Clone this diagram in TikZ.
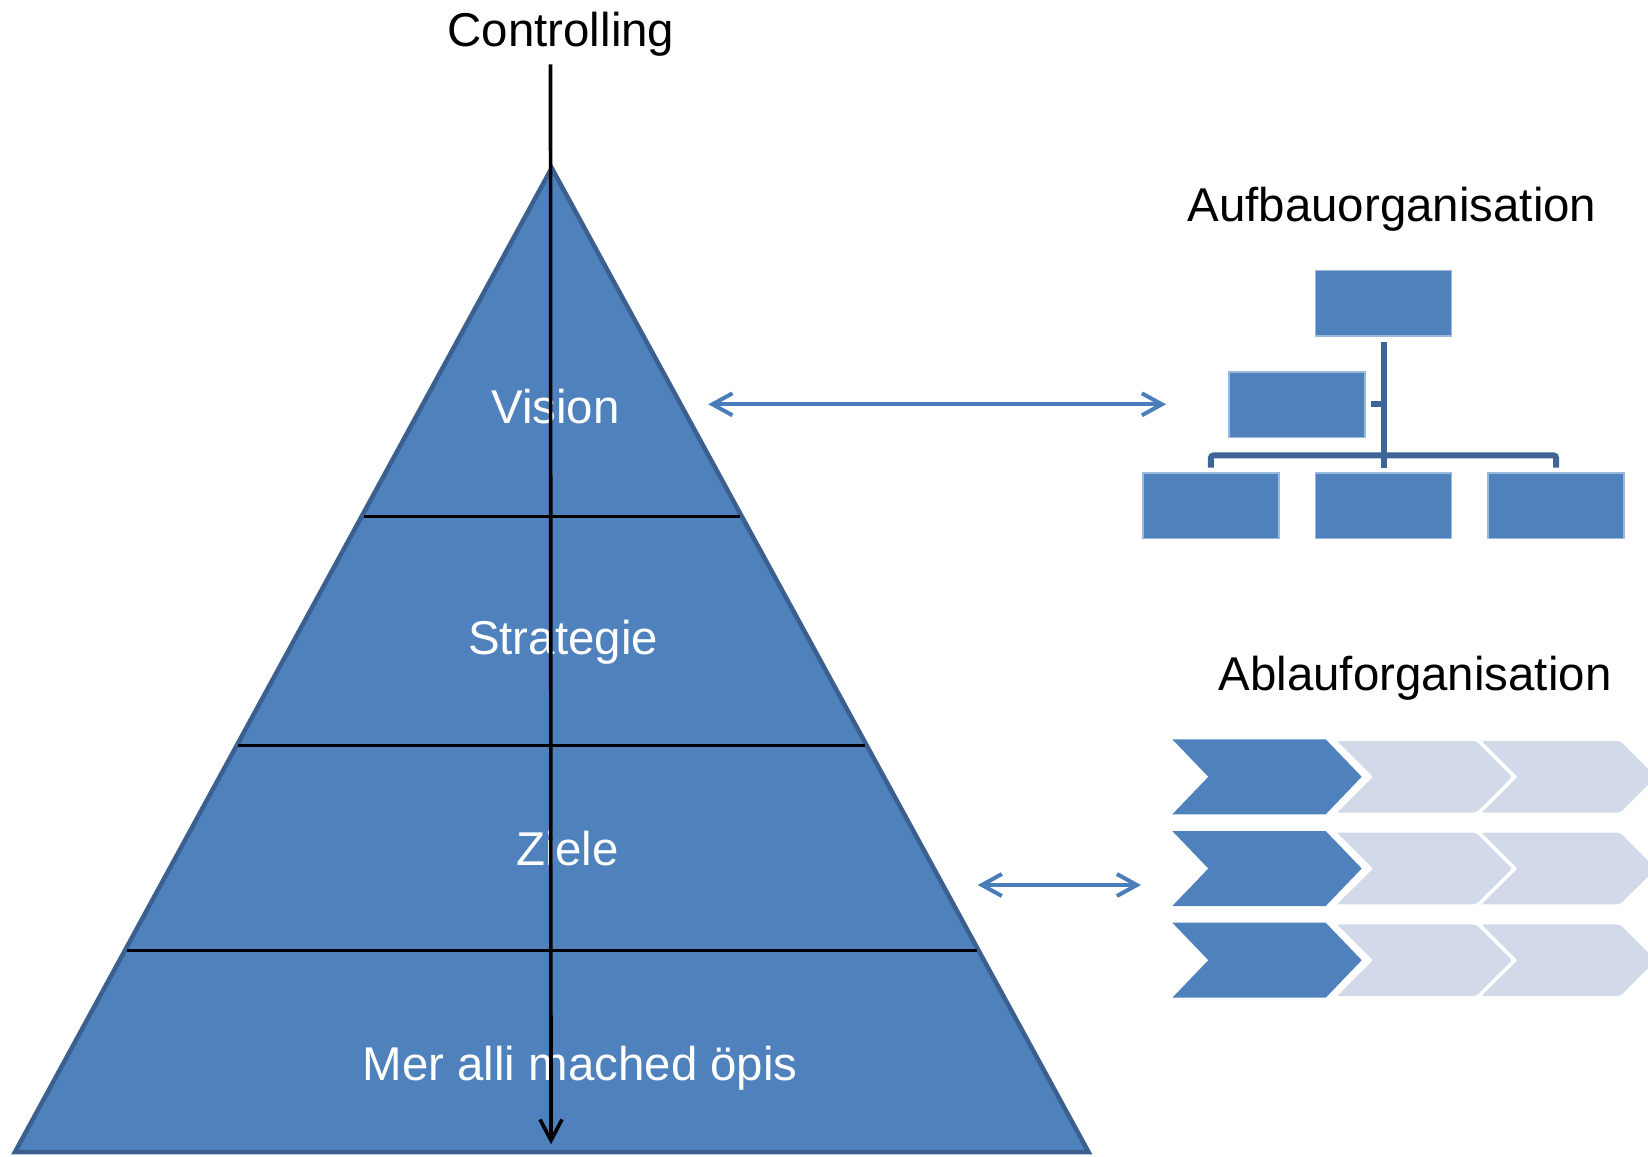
\documentclass[tikz,border=0pt]{standalone}
\usepackage{fontspec}
\setmainfont{Liberation Sans}
\usetikzlibrary{arrows.meta}
\definecolor{pyrfill}{HTML}{4F81BD}
\definecolor{pyrline}{HTML}{3B6090}
\definecolor{arrblue}{HTML}{4A7EBB}
\definecolor{orgline}{HTML}{3E6598}
\definecolor{orgedge}{HTML}{9BB9DE}
\definecolor{lightchev}{RGB}{210,218,233}
\newcommand{\mychev}[5]{%
  \fill[#5] (#1,#2) -- ({#1+#3},#2) -- ({#1+#3+36},{#2+#4/2}) -- ({#1+#3},{#2+#4})
    -- (#1,{#2+#4}) -- ({#1+36},{#2+#4/2}) -- cycle;}
\tikzset{
  bigtext/.style={font=\fontsize{27}{32}\selectfont, inner sep=0pt, anchor=base},
  whitetext/.style={bigtext, text=white},
  divline/.style={black, line width=0.06cm},
  ctrlarrow/.style={black, line width=0.072cm, -{Straight Barb[length=0.42cm,width=0.44cm,line width=0.072cm]}},
  bluearrow/.style={arrblue, line width=0.08cm, {Straight Barb[length=0.4cm,width=0.44cm]}-{Straight Barb[length=0.4cm,width=0.44cm]}},
  orgbox/.style={rectangle, fill=pyrfill, draw=orgedge, line width=0.03cm, minimum width=2.72cm, minimum height=1.31cm, inner sep=0pt},
  orgconn/.style={orgline, line width=0.12cm},
  darkchevron/.style={fill=pyrfill},
  lightchevron/.style={fill=lightchev, rounded corners=0.04cm}
}
\begin{document}
\begin{tikzpicture}[x=0.02cm, y=-0.02cm]
\useasboundingbox (0,0) rectangle (1648,1156);
% pyramid
\filldraw[fill=pyrfill, draw=pyrline, line width=0.09cm, line join=miter] (551.7,168) -- (1088.5,1152) -- (15,1152) -- cycle;
% dividing lines
\coordinate (l1a) at (364,516);   \coordinate (l1b) at (740,516);
\coordinate (l2a) at (238,745.3); \coordinate (l2b) at (865,745.3);
\coordinate (l3a) at (127,950.3); \coordinate (l3b) at (977,950.3);
\draw[divline] (l1a) -- (l1b);
\draw[divline] (l2a) -- (l2b);
\draw[divline] (l3a) -- (l3b);
% labels in pyramid
\node[whitetext] (vision) at (555.5,423) {Vision};
\node[whitetext] (strat) at (563,654) {Strategie};
\node[whitetext] (ziele) at (567.5,865) {Ziele};
\node[whitetext] (basis) at (580.2,1080) {Mer alli mached öpis};
% controlling arrow
\node[bigtext] (ctrl) at (561,46.7) {Controlling};
\coordinate (ctrlTop) at (550.5,64.3);
\coordinate (ctrlBot) at (551,1144.3);
\draw[ctrlarrow] (ctrlTop) -- (ctrlBot);
% headings right
\node[bigtext] (aufbau) at (1392,221.8) {Aufbauorganisation};
\node[bigtext] (ablauf) at (1415,690.5) {Ablauforganisation};
% org chart
\node[orgbox] (otop) at (1383.5,303.3) {};
\node[orgbox] (omid) at (1296.8,404.5) {};
\node[orgbox] (ob1) at (1210.8,505.7) {};
\node[orgbox] (ob2) at (1383.5,505.7) {};
\node[orgbox] (ob3) at (1556.2,505.7) {};
\coordinate (trT) at (1383.5,341.7);
\coordinate (trB) at (1383.5,467.7);
\coordinate (stA) at (1371,404.3);
\coordinate (stB) at (1383.5,404.3);
\coordinate (brL) at (1210.8,467.7);
\coordinate (brR) at (1556.2,467.7);
\draw[orgconn] (trT) -- (trB);
\draw[orgconn] (stA) -- (stB);
\draw[orgconn, rounded corners=0.06cm] (brL) -- (1210.8,455.3) -- (1556.2,455.3) -- (brR);
% arrows
\coordinate (vArrL) at (708.3,404.3);
\coordinate (vArrR) at (1166,404.3);
\draw[bluearrow] (vArrL) -- (vArrR);
\coordinate (zArrL) at (977.7,885);
\coordinate (zArrR) at (1141,885);
\draw[bluearrow] (zArrL) -- (zArrR);
% chevrons
\foreach \r in {0,1,2}{
  \mychev{1172.3}{739.3+91.7*\r}{153.4}{75}{darkchevron}
  \mychev{1337}{741+91.7*\r}{139}{71.7}{lightchevron}
  \mychev{1481.5}{741+91.7*\r}{138.5}{71.7}{lightchevron}
}
\end{tikzpicture}
\end{document}
